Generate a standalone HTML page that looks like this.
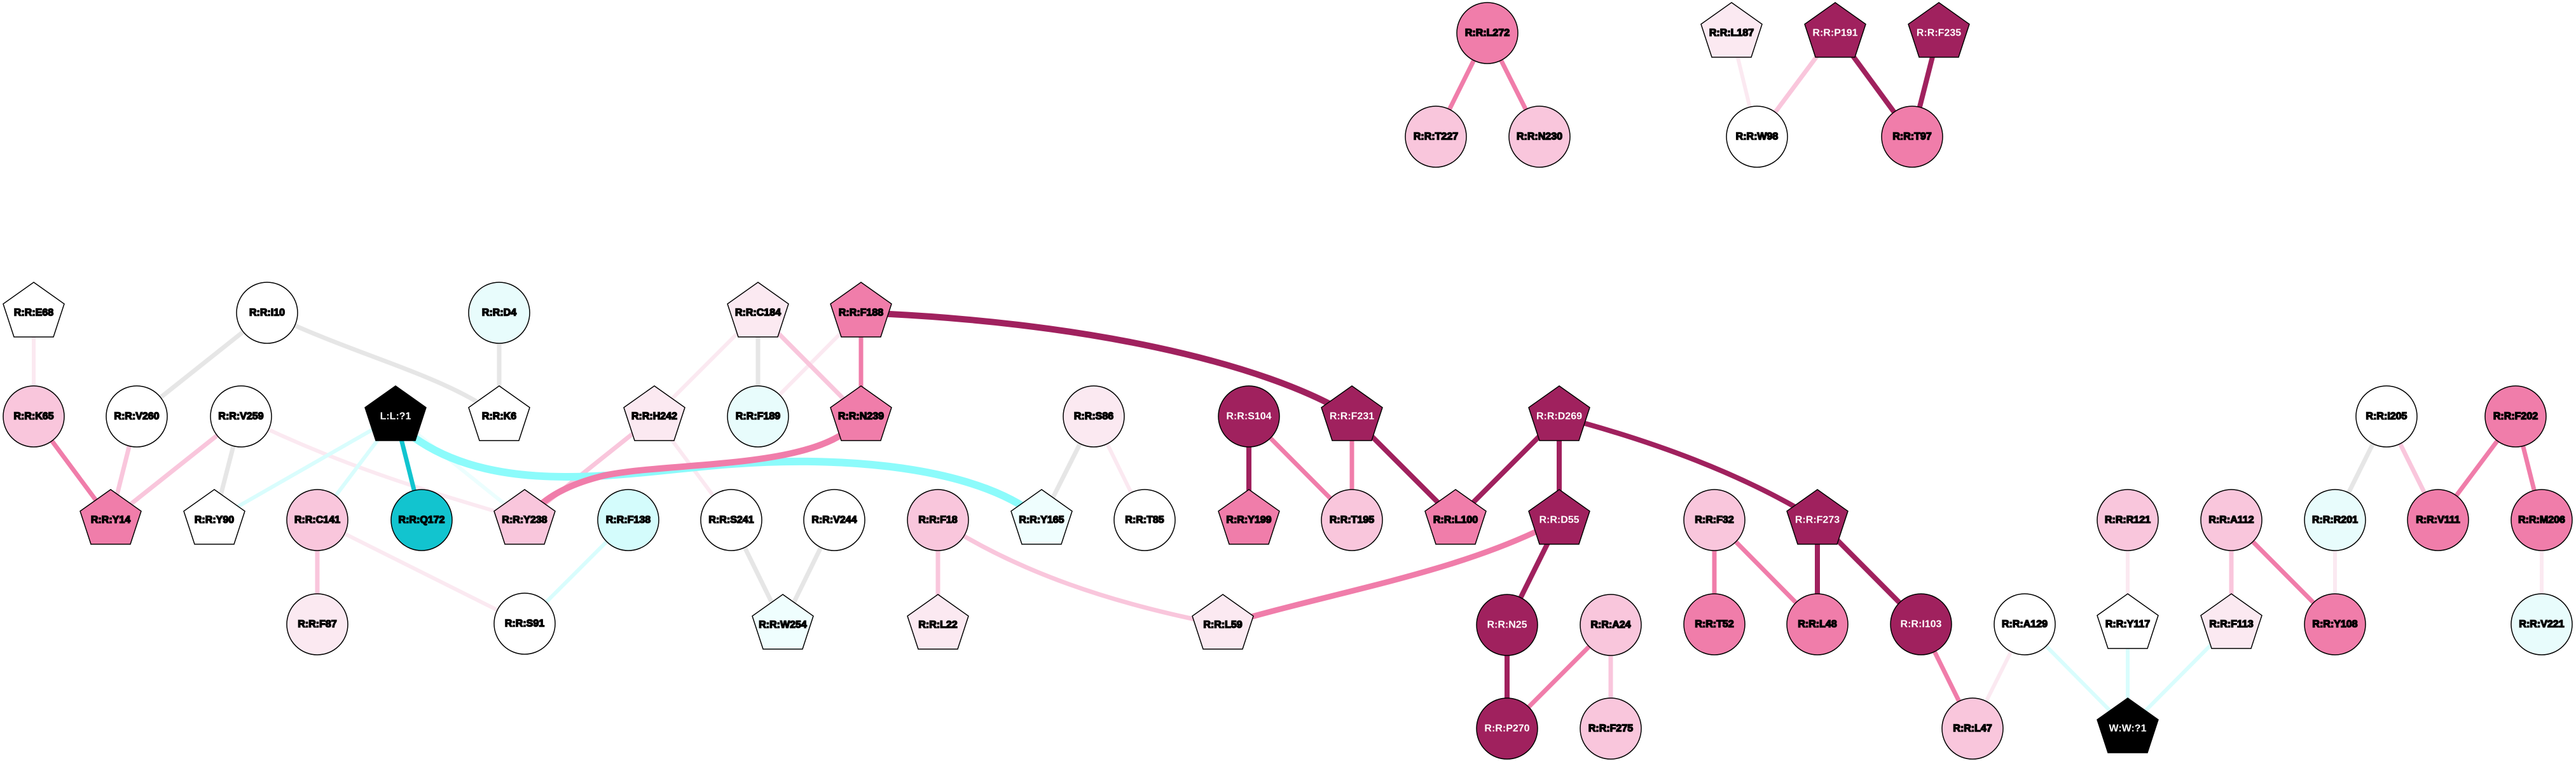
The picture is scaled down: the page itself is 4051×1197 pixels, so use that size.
<!DOCTYPE html>
<html><head><meta charset="utf-8"><style>
html,body{margin:0;padding:0;background:#fff}
svg{display:block}
text{font-family:"Liberation Sans",sans-serif;font-weight:bold;font-size:16px;text-anchor:middle;dominant-baseline:central}
</style></head><body>
<svg width="4051" height="1197" viewBox="0 0 4051 1197" xmlns="http://www.w3.org/2000/svg">
<defs>
<polygon id="pent" points="0,-48 48,-14 31,38 -31,38 -48,-14"/>
</defs>
<g fill="none" stroke-linecap="butt">
<!-- gray -->
<g stroke="#e6e6e6" stroke-width="7">
<line x1="420" y1="492" x2="215" y2="655"/>
<path d="M420,492 C560,560 700,590 785,655"/>
<line x1="785" y1="492" x2="785" y2="655"/>
<line x1="379" y1="655" x2="337" y2="818"/>
<line x1="1192" y1="492" x2="1192" y2="655"/>
<line x1="1150" y1="818" x2="1231" y2="983"/>
<line x1="1312" y1="818" x2="1231" y2="983"/>
<line x1="1720" y1="655" x2="1638" y2="818"/>
<line x1="3753" y1="655" x2="3672" y2="818"/>
</g>
<!-- very light pink -->
<g stroke="#fbe9f1" stroke-width="6">
<line x1="53" y1="492" x2="53" y2="655"/>
<path d="M379,655 C550,740 700,780 825,818"/>
<line x1="1192" y1="492" x2="1029" y2="655"/>
<line x1="1354" y1="492" x2="1192" y2="655"/>
<line x1="1029" y1="655" x2="1150" y2="818"/>
<line x1="499" y1="818" x2="825" y2="981"/>
<line x1="1720" y1="655" x2="1800" y2="818"/>
<line x1="3184" y1="982" x2="3102" y2="1146"/>
<line x1="3346" y1="818" x2="3346" y2="982"/>
<line x1="3672" y1="818" x2="3672" y2="982"/>
<line x1="3997" y1="818" x2="3997" y2="982"/>
<line x1="2723" y1="50" x2="2763" y2="215"/>
</g>
<!-- light pink -->
<g stroke="#f9c6dc" stroke-width="7">
<line x1="215" y1="655" x2="174" y2="818"/>
<line x1="379" y1="655" x2="174" y2="818"/>
<line x1="1029" y1="655" x2="825" y2="818"/>
<line x1="1192" y1="492" x2="1354" y2="655"/>
<line x1="499" y1="818" x2="499" y2="982"/>
<line x1="1475" y1="818" x2="1475" y2="983"/>
<path d="M1475,818 C1600,900 1750,950 1923,983"/>
<line x1="2533" y1="983" x2="2533" y2="1146"/>
<line x1="3509" y1="818" x2="3509" y2="982"/>
<line x1="3753" y1="655" x2="3834" y2="818"/>
<line x1="2886" y1="50" x2="2763" y2="215"/>
</g>
<!-- light cyan -->
<g stroke="#d9fdfd" stroke-width="6">
<line x1="622" y1="655" x2="337" y2="818"/>
<line x1="622" y1="655" x2="499" y2="818"/>
<line x1="988" y1="818" x2="825" y2="981"/>
<line x1="3184" y1="982" x2="3346" y2="1146"/>
<line x1="3346" y1="982" x2="3346" y2="1146"/>
<line x1="3509" y1="982" x2="3346" y2="1146"/>
</g>
<line x1="622" y1="655" x2="825" y2="818" stroke="#ecfefe" stroke-width="6"/>
<path d="M640,680 C780,790 1000,740 1150,730 C1350,715 1550,740 1638,818" stroke="#8cfbfb" stroke-width="12"/>
<line x1="622" y1="655" x2="663" y2="818" stroke="#12c4cf" stroke-width="7"/>
<!-- medium pink -->
<g stroke="#f07daa" stroke-width="7">
<line x1="53" y1="655" x2="174" y2="818"/>
<line x1="1354" y1="492" x2="1354" y2="655"/>
<path d="M1354,655 C1300,740 1060,725 950,748 C880,765 850,790 825,818" stroke-width="10"/>
<line x1="1964" y1="655" x2="2126" y2="818"/>
<line x1="2126" y1="655" x2="2126" y2="818"/>
<path d="M2452,818 C2300,900 2100,930 1923,983" stroke-width="9"/>
<line x1="2533" y1="983" x2="2370" y2="1146"/>
<line x1="2696" y1="818" x2="2696" y2="982"/>
<line x1="2696" y1="818" x2="2858" y2="982"/>
<line x1="3021" y1="982" x2="3102" y2="1146"/>
<line x1="3509" y1="818" x2="3672" y2="982"/>
<line x1="3956" y1="655" x2="3834" y2="818"/>
<line x1="3956" y1="655" x2="3997" y2="818"/>
<line x1="2339" y1="52" x2="2258" y2="215"/>
<line x1="2339" y1="52" x2="2421" y2="215"/>
</g>
<!-- dark -->
<g stroke="#a0215e" stroke-width="8">
<path d="M1354,492 C1700,505 1990,570 2126,655" stroke-width="10"/>
<line x1="1964" y1="655" x2="1964" y2="818"/>
<line x1="2126" y1="655" x2="2289" y2="818"/>
<line x1="2452" y1="655" x2="2289" y2="818"/>
<line x1="2452" y1="655" x2="2452" y2="818"/>
<path d="M2452,655 Q2700,720 2858,818"/>
<line x1="2452" y1="818" x2="2370" y2="983"/>
<line x1="2370" y1="983" x2="2370" y2="1146"/>
<line x1="2858" y1="818" x2="2858" y2="982"/>
<line x1="2858" y1="818" x2="3021" y2="982"/>
<line x1="2886" y1="50" x2="3007" y2="215"/>
<line x1="3049" y1="50" x2="3007" y2="215"/>
</g>
</g>
<g stroke="#000" stroke-width="1.5">
<!-- circles -->
<circle cx="420" cy="492" r="48" fill="#fff"/><text x="420" y="492">R:R:I10</text>
<circle cx="785" cy="492" r="48" fill="#e8fcfc"/><text x="785" y="492">R:R:D4</text>
<circle cx="53" cy="655" r="48" fill="#f9c6dc"/><text x="53" y="655">R:R:K65</text>
<circle cx="215" cy="655" r="48" fill="#fff"/><text x="215" y="655">R:R:V260</text>
<circle cx="379" cy="655" r="48" fill="#fff"/><text x="379" y="655">R:R:V259</text>
<circle cx="499" cy="818" r="48" fill="#f9c6dc"/><text x="499" y="818">R:R:C141</text>
<circle cx="663" cy="818" r="48" fill="#12c4cf"/><text x="663" y="818">R:R:Q172</text>
<circle cx="988" cy="818" r="48" fill="#d4fcfc"/><text x="988" y="818">R:R:F138</text>
<circle cx="499" cy="982" r="48" fill="#fbe9f1"/><text x="499" y="982">R:R:F87</text>
<circle cx="825" cy="981" r="48" fill="#fff"/><text x="825" y="981">R:R:S91</text>
<circle cx="1192" cy="655" r="48" fill="#e8fcfc"/><text x="1192" y="655">R:R:F189</text>
<circle cx="1150" cy="818" r="48" fill="#fff"/><text x="1150" y="818">R:R:S241</text>
<circle cx="1312" cy="818" r="48" fill="#fff"/><text x="1312" y="818">R:R:V244</text>
<circle cx="1475" cy="818" r="48" fill="#f9c6dc"/><text x="1475" y="818">R:R:F18</text>
<circle cx="1720" cy="655" r="48" fill="#fbe9f1"/><text x="1720" y="655">R:R:S86</text>
<circle cx="1800" cy="818" r="48" fill="#fff"/><text x="1800" y="818">R:R:T85</text>
<circle cx="1964" cy="655" r="48" fill="#a0215e"/><text x="1964" y="655" fill="#fff" stroke="none">R:R:S104</text>
<circle cx="2126" cy="818" r="48" fill="#f9c6dc"/><text x="2126" y="818">R:R:T195</text>
<circle cx="2370" cy="983" r="48" fill="#a0215e"/><text x="2370" y="983" fill="#fff" stroke="none">R:R:N25</text>
<circle cx="2370" cy="1146" r="48" fill="#a0215e"/><text x="2370" y="1146" fill="#fff" stroke="none">R:R:P270</text>
<circle cx="2533" cy="983" r="48" fill="#f9c6dc"/><text x="2533" y="983">R:R:A24</text>
<circle cx="2533" cy="1146" r="48" fill="#f9c6dc"/><text x="2533" y="1146">R:R:F275</text>
<circle cx="2696" cy="818" r="48" fill="#f9c6dc"/><text x="2696" y="818">R:R:F32</text>
<circle cx="2696" cy="982" r="48" fill="#f07daa"/><text x="2696" y="982">R:R:T52</text>
<circle cx="2858" cy="982" r="48" fill="#f07daa"/><text x="2858" y="982">R:R:L48</text>
<circle cx="3021" cy="982" r="48" fill="#a0215e"/><text x="3021" y="982" fill="#fff" stroke="none">R:R:I103</text>
<circle cx="3102" cy="1146" r="48" fill="#f9c6dc"/><text x="3102" y="1146">R:R:L47</text>
<circle cx="3184" cy="982" r="48" fill="#fff"/><text x="3184" y="982">R:R:A129</text>
<circle cx="3346" cy="818" r="48" fill="#f9c6dc"/><text x="3346" y="818">R:R:R121</text>
<circle cx="3509" cy="818" r="48" fill="#f9c6dc"/><text x="3509" y="818">R:R:A112</text>
<circle cx="3672" cy="982" r="48" fill="#f07daa"/><text x="3672" y="982">R:R:Y108</text>
<circle cx="3672" cy="818" r="48" fill="#e8fcfc"/><text x="3672" y="818">R:R:R201</text>
<circle cx="3753" cy="655" r="48" fill="#fff"/><text x="3753" y="655">R:R:I205</text>
<circle cx="3956" cy="655" r="48" fill="#f07daa"/><text x="3956" y="655">R:R:F202</text>
<circle cx="3834" cy="818" r="48" fill="#f07daa"/><text x="3834" y="818">R:R:V111</text>
<circle cx="3997" cy="818" r="48" fill="#f07daa"/><text x="3997" y="818">R:R:M206</text>
<circle cx="3997" cy="982" r="48" fill="#e8fcfc"/><text x="3997" y="982">R:R:V221</text>
<circle cx="2339" cy="52" r="48" fill="#f07daa"/><text x="2339" y="52">R:R:L272</text>
<circle cx="2258" cy="215" r="48" fill="#f9c6dc"/><text x="2258" y="215">R:R:T227</text>
<circle cx="2421" cy="215" r="48" fill="#f9c6dc"/><text x="2421" y="215">R:R:N230</text>
<circle cx="2763" cy="215" r="48" fill="#fff"/><text x="2763" y="215">R:R:W98</text>
<circle cx="3007" cy="215" r="48" fill="#f07daa"/><text x="3007" y="215">R:R:T97</text>
<!-- pentagons -->
<use href="#pent" x="53" y="492" fill="#fff"/><text x="53" y="492">R:R:E68</text>
<use href="#pent" x="622" y="655" fill="#000"/><text x="622" y="655" fill="#fff" stroke="none">L:L:?1</text>
<use href="#pent" x="785" y="655" fill="#fff"/><text x="785" y="655">R:R:K6</text>
<use href="#pent" x="1029" y="655" fill="#fbe9f1"/><text x="1029" y="655">R:R:H242</text>
<use href="#pent" x="174" y="818" fill="#f07daa"/><text x="174" y="818">R:R:Y14</text>
<use href="#pent" x="337" y="818" fill="#fff"/><text x="337" y="818">R:R:Y90</text>
<use href="#pent" x="825" y="818" fill="#f9c6dc"/><text x="825" y="818">R:R:Y238</text>
<use href="#pent" x="1192" y="492" fill="#fbe9f1"/><text x="1192" y="492">R:R:C184</text>
<use href="#pent" x="1354" y="492" fill="#f07daa"/><text x="1354" y="492">R:R:F188</text>
<use href="#pent" x="1354" y="655" fill="#f07daa"/><text x="1354" y="655">R:R:N239</text>
<use href="#pent" x="1638" y="818" fill="#effefe"/><text x="1638" y="818">R:R:Y165</text>
<use href="#pent" x="1231" y="983" fill="#effefe"/><text x="1231" y="983">R:R:W254</text>
<use href="#pent" x="1475" y="983" fill="#fbe9f1"/><text x="1475" y="983">R:R:L22</text>
<use href="#pent" x="1923" y="983" fill="#fbe9f1"/><text x="1923" y="983">R:R:L59</text>
<use href="#pent" x="2126" y="655" fill="#a0215e"/><text x="2126" y="655" fill="#fff" stroke="none">R:R:F231</text>
<use href="#pent" x="1964" y="818" fill="#f07daa"/><text x="1964" y="818">R:R:Y199</text>
<use href="#pent" x="2289" y="818" fill="#f07daa"/><text x="2289" y="818">R:R:L100</text>
<use href="#pent" x="2452" y="655" fill="#a0215e"/><text x="2452" y="655" fill="#fff" stroke="none">R:R:D269</text>
<use href="#pent" x="2452" y="818" fill="#a0215e"/><text x="2452" y="818" fill="#fff" stroke="none">R:R:D55</text>
<use href="#pent" x="2858" y="818" fill="#a0215e"/><text x="2858" y="818" fill="#fff" stroke="none">R:R:F273</text>
<use href="#pent" x="3346" y="982" fill="#fff"/><text x="3346" y="982">R:R:Y117</text>
<use href="#pent" x="3509" y="982" fill="#fbe9f1"/><text x="3509" y="982">R:R:F113</text>
<use href="#pent" x="3346" y="1146" fill="#000"/><text x="3346" y="1146" fill="#fff" stroke="none">W:W:?1</text>
<use href="#pent" x="2723" y="52" fill="#fbe9f1"/><text x="2723" y="52">R:R:L187</text>
<use href="#pent" x="2886" y="52" fill="#a0215e"/><text x="2886" y="52" fill="#fff" stroke="none">R:R:P191</text>
<use href="#pent" x="3049" y="52" fill="#a0215e"/><text x="3049" y="52" fill="#fff" stroke="none">R:R:F235</text>
</g>
</svg>
</body></html>
